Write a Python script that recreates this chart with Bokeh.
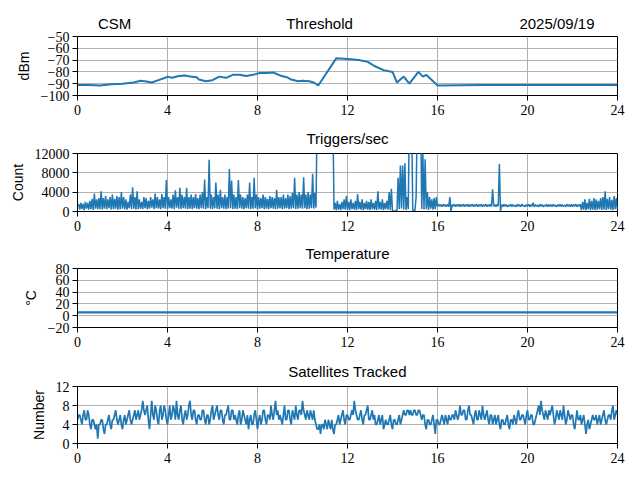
import numpy as np
from bokeh.plotting import figure
from bokeh.layouts import column
from bokeh.models import Range1d, FixedTicker
from bokeh.core.properties import value
from bokeh.embed import file_html
from bokeh.resources import INLINE

# ---------------- data ----------------
thr_hours = [0, 0.5, 1, 1.5, 2, 2.5, 2.8, 3.0, 3.3, 3.6, 3.9, 4.0, 4.2, 4.5, 4.8,
             5.0, 5.3, 5.4, 5.7, 6.0, 6.3, 6.6, 6.9, 7.2, 7.5, 7.8, 8.1, 8.4, 8.7,
             9.0, 9.3, 9.5, 9.8, 10.0, 10.3, 10.5, 10.7, 11.5, 12.0, 12.5, 12.9,
             13.2, 13.6, 14.0, 14.2, 14.5, 14.75, 15.15, 15.35, 15.5, 16.0,
             18.0, 20.0, 22.0, 24.0]
thr_dbm = [-91, -91, -91.5, -90.5, -90, -89, -87.5, -88, -89, -87, -85, -84, -85, -83.5, -83,
           -84, -84.5, -86.5, -88, -87, -84, -85, -82.5, -82.5, -83.5, -82.5, -81, -81, -80.5,
           -83, -84.5, -86.5, -88, -87.5, -88, -89, -91.5, -68.5, -69, -70, -71.5,
           -75, -78.5, -80, -89, -84, -90, -80, -84, -82.5, -91.5,
           -91, -91, -91, -91]

# triggers: readings at every 0.1 h (low) and half-way between them (high)
trig_low = [
    1200, 400, 500, 300, 600, 400, 500, 300, 600, 500,
    500, 400, 600, 500, 700, 400, 500, 600, 400, 500,
    600, 500, 400, 700, 500, 600, 400, 500, 600, 500,
    700, 500, 600, 800, 500, 700, 600, 500, 700, 600,
    500, 700, 600, 500, 800, 600, 500, 700, 600, 500,
    600, 500, 700, 600, 500, 700, 600, 500, 700, 600,
    500, 700, 600, 500, 700, 600, 500, 600, 700, 500,
    600, 500, 700, 600, 500, 700, 600, 500, 600, 700,
    500, 600, 700, 500, 600, 500, 700, 600, 500, 600,
    700, 500, 600, 700, 500, 600, 700, 500, 600, 700,
    600, 700, 500, 600, 700, 600, 800, 20000, 20000, 20000,
    20000, 20000, 20000, 20000, 400, 300, 400, 300, 500, 400,
    400, 300, 500, 400, 300, 500, 400, 300, 500, 400,
    300, 500, 400, 300, 500, 400, 300, 500, 400, 300,
    0, 0, 300, 500, 600, 400, 300, 500, 20000, 300,
    300, 20000, 20000, 500, 400, 500, 300, 600, 400, 500,
    1000, 1100, 1000, 1100, 1000, 1000, 0, 1100, 1000, 1100,
    1000, 1100, 1000, 1100, 1000, 1100, 1000, 1100, 1000, 1100,
    1000, 1100, 1000, 1100, 1000, 1100, 1000, 1100, 0, 1000,
    1100, 1000, 1100, 1000, 1100, 1000, 1100, 1000, 1100, 1000,
    1100, 1000, 1100, 1000, 1100, 1000, 1100, 1000, 1100, 1000,
    1100, 1000, 1100, 1000, 1100, 1000, 1100, 1000, 1100, 1000,
    1000, 1100, 1000, 1100, 300, 400, 300, 500, 300, 400,
    300, 400, 500, 300, 400, 300, 500, 400, 300, 500,
    400]
trig_high = [
    1500, 1800, 1600, 2000, 1800, 2200, 2600, 3700, 2500, 2800,
    4200, 2800, 3200, 2500, 3000, 3500, 2600, 3200, 3000, 4000,
    3000, 2500, 2000, 3500, 5000, 3000, 4200, 2500, 2000, 3000,
    2800, 2200, 3000, 2500, 3700, 3000, 2500, 3600, 3000, 6500,
    3000, 2500, 3500, 4400, 3000, 4900, 3500, 3000, 4900, 3000,
    3500, 3000, 3600, 2800, 3500, 4000, 6600, 3000, 10700, 3500,
    3000, 6000, 3500, 4500, 3000, 3500, 3000, 8800, 6400, 3500,
    3000, 6500, 3500, 3000, 2800, 3500, 6000, 3000, 7000, 3500,
    3000, 2800, 3500, 3000, 2600, 3200, 3000, 2800, 4500, 3000,
    3000, 3500, 2800, 3500, 3200, 3800, 7000, 3500, 4000, 3500,
    7100, 3500, 4000, 3500, 7800, 3800, 20000, 20000, 20000, 20000,
    20000, 20000, 20000, 20000, 1800, 2200, 1500, 2000, 2500, 3200,
    2000, 2500, 1800, 2200, 3600, 2000, 2500, 1800, 2200, 2000,
    2500, 1800, 2200, 4200, 2000, 2500, 1800, 2200, 4000, 4700,
    100, 200, 7000, 9500, 9500, 10000, 3000, 20000, 20000, 200,
    3000, 20000, 20000, 12000, 10800, 4000, 3000, 2500, 2800, 3000,
    1500, 1400, 1500, 1400, 1500, 3000, 1400, 1500, 1400, 1500,
    1400, 1500, 1400, 1500, 1400, 1500, 1400, 1500, 1400, 1500,
    1400, 1500, 1400, 1500, 4600, 1400, 1500, 9900, 1400, 1500,
    1400, 1300, 1500, 1400, 1300, 1500, 1400, 1500, 1300, 1400,
    1500, 1400, 1800, 1400, 1300, 1500, 1400, 1300, 1500, 1400,
    1400, 1500, 1300, 1400, 1500, 1400, 1300, 1500, 1400, 1500,
    1400, 1500, 1400, 1500, 2000, 2500, 1800, 2600, 2200, 2800,
    2500, 2200, 2800, 3000, 4200, 2600, 3000, 2400, 3200, 2800]

temp_hours = [0, 2, 4, 6, 8, 10, 12, 14, 16, 18, 20, 22, 24]
temp_c = [5.5, 5.5, 5.5, 5.5, 5.5, 5.5, 5.5, 5.5, 5.5, 5.5, 5.5, 5.5, 5.5]

# satellites: readings at every 0.1 h and half-way between them
sat_counts = [
    5, 6, 4, 7, 5, 6, 3, 5, 3, 1,
    4, 5, 2, 4, 6, 3, 5, 7, 4, 6,
    3, 6, 5, 7, 4, 6, 5, 7, 6, 9,
    6, 8, 3, 9, 5, 7, 4, 8, 6, 7,
    4, 8, 6, 7, 9, 5, 8, 4, 7, 6,
    9, 5, 7, 4, 6, 5, 7, 4, 6, 5,
    8, 6, 8, 5, 7, 4, 6, 8, 5, 7,
    6, 4, 7, 5, 6, 4, 3, 6, 4, 7,
    3, 6, 5, 7, 4, 6, 8, 5, 9, 7,
    6, 4, 8, 5, 7, 4, 6, 8, 5, 7,
    9, 6, 7, 5, 6, 7, 4, 3, 2, 4,
    5, 3, 4, 5, 2, 4, 6, 5, 7, 4,
    6, 5, 7, 9, 6, 5, 7, 4, 6, 8,
    5, 7, 6, 4, 6, 5, 3, 5, 4, 6,
    3, 5, 4, 6, 5, 7, 6, 7, 7, 6,
    7, 6, 7, 5, 6, 3, 5, 4, 6, 2,
    5, 4, 6, 4, 5, 6, 5, 6, 7, 5,
    8, 6, 7, 5, 8, 6, 4, 7, 5, 6,
    8, 5, 7, 4, 6, 5, 4, 6, 3, 5,
    4, 6, 3, 5, 6, 4, 7, 5, 6, 4,
    7, 5, 6, 4, 6, 8, 9, 6, 7, 5,
    6, 8, 4, 7, 5, 6, 8, 4, 7, 5,
    6, 3, 7, 5, 4, 6, 2, 5, 4, 6,
    5, 4, 6, 5, 7, 4, 6, 5, 8, 6,
    6]
sat_half = [
    6, 5, 6, 5, 7, 4, 5, 4, 4, 4,
    5, 3, 4, 5, 4, 5, 6, 5, 5, 4,
    5, 4, 6, 5, 5, 7, 6, 5, 7, 7,
    7, 5, 6, 6, 8, 5, 7, 5, 8, 5,
    6, 5, 8, 5, 6, 7, 5, 6, 5, 8,
    6, 7, 5, 6, 5, 7, 5, 6, 4, 7,
    5, 7, 6, 7, 5, 6, 7, 5, 7, 5,
    5, 6, 4, 7, 5, 6, 5, 4, 6, 5,
    5, 4, 7, 5, 6, 5, 6, 7, 6, 5,
    5, 6, 5, 7, 5, 7, 5, 6, 7, 6,
    7, 5, 6, 7, 5, 5, 3, 4, 4, 3,
    4, 5, 3, 3, 4, 5, 4, 6, 5, 6,
    5, 6, 6, 7, 5, 6, 5, 6, 7, 5,
    6, 5, 4, 5, 4, 6, 4, 4, 5, 4,
    5, 4, 5, 4, 6, 6, 7, 6, 6, 7,
    6, 7, 6, 6, 4, 5, 4, 5, 4, 5,
    4, 5, 5, 6, 4, 5, 6, 5, 6, 6,
    6, 7, 5, 7, 6, 5, 6, 5, 7, 5,
    6, 6, 5, 6, 4, 6, 5, 4, 5, 4,
    5, 4, 5, 4, 5, 6, 5, 6, 5, 6,
    5, 6, 4, 5, 7, 6, 7, 5, 6, 7,
    7, 6, 5, 6, 7, 5, 6, 5, 6, 6,
    4, 5, 5, 6, 5, 4, 4, 3, 5, 5,
    6, 5, 4, 6, 5, 5, 6, 7, 5, 7]

x_ticks = [0, 4, 8, 12, 16, 20, 24]
thr_ticks = [-100, -90, -80, -70, -60, -50]
trig_ticks = [0, 4000, 8000, 12000]
temp_ticks = [-20, 0, 20, 40, 60, 80]
sat_ticks = [0, 4, 8, 12]

header_texts = ["CSM", "Threshold", "2025/09/19"]
panel_titles = ["Triggers/sec", "Temperature", "Satellites Tracked"]

# sample times (0.1 h grid, plus the half-way readings)
sample_hours = np.round(np.arange(len(sat_counts)) * 0.1, 2)
dense_hours = np.empty(2 * len(sample_hours) - 1)
dense_hours[0::2] = sample_hours
dense_hours[1::2] = sample_hours[:-1] + 0.05

trig_values = np.empty(len(dense_hours))
trig_values[0::2] = trig_low
trig_values[1::2] = trig_high
sat_values = np.empty(len(dense_hours))
sat_values[0::2] = sat_counts
sat_values[1::2] = sat_half

# ---------------- style ----------------
BLUE = "#1f77b4"
SERIF = "Liberation Serif"
SANS = "Liberation Sans"
TITLE_STYLE = dict(text_baseline="middle", text_font=value(SANS),
                   text_font_size="15px", text_color="black",
                   text_line_height=1.0)


def fmt(v):
    return str(int(v)).replace("-", "\u2212")


def make_fig(ymin, ymax, yticks, fh, top, bottom, ylabel):
    p = figure(frame_width=540, frame_height=fh,
               x_range=Range1d(0, 24), y_range=Range1d(ymin, ymax),
               output_backend="svg", toolbar_location=None,
               min_border_left=77, min_border_right=23,
               min_border_top=top, min_border_bottom=bottom,
               background_fill_color="white", border_fill_color="white")
    p.outline_line_color = "black"
    p.outline_line_width = 1
    p.outline_line_alpha = 1
    p.xaxis.ticker = FixedTicker(ticks=x_ticks)
    p.yaxis.ticker = FixedTicker(ticks=yticks)
    p.xaxis.major_label_overrides = {t: fmt(t) for t in x_ticks}
    p.yaxis.major_label_overrides = {t: fmt(t) for t in yticks}
    for ax in (p.xaxis, p.yaxis):
        ax.axis_line_color = "black"
        ax.major_tick_line_color = "black"
        ax.major_tick_out = 5
        ax.major_tick_in = 0
        ax.minor_tick_out = 0
        ax.minor_tick_in = 0
        ax.major_label_text_font = SERIF
        ax.major_label_text_font_size = "14px"
        ax.major_label_text_color = "black"
    p.xaxis.major_label_standoff = 4
    p.yaxis.major_label_standoff = 3
    p.yaxis.axis_label = ylabel
    p.yaxis.axis_label_text_font = SANS
    p.yaxis.axis_label_text_font_size = "14px"
    p.yaxis.axis_label_text_font_style = "normal"
    p.yaxis.axis_label_text_color = "black"
    p.yaxis.axis_label_standoff = 6
    p.xgrid.ticker = FixedTicker(ticks=x_ticks)
    p.ygrid.ticker = FixedTicker(ticks=yticks)
    for g in (p.xgrid, p.ygrid):
        g.grid_line_color = "#b0b0b0"
        g.grid_line_width = 1
    return p


def make_header(h):
    hdr = figure(frame_width=540, frame_height=h, x_range=Range1d(0, 540),
                 y_range=Range1d(0, h), x_axis_location=None, y_axis_location=None,
                 output_backend="svg", toolbar_location=None,
                 min_border_left=77, min_border_right=23,
                 min_border_top=0, min_border_bottom=0,
                 background_fill_color="white", border_fill_color="white")
    hdr.outline_line_color = None
    hdr.grid.visible = False
    return hdr


# header row above the first panel (pixel coordinates inside its frame)
h0 = make_header(31)
h0.text(x=[20.5], y=[8], text=[header_texts[0]], text_align="left", **TITLE_STYLE)
h0.text(x=[242], y=[8], text=[header_texts[1]], text_align="center", **TITLE_STYLE)
h0.text(x=[517], y=[8], text=[header_texts[2]], text_align="right", **TITLE_STYLE)

# Threshold  (frame 36-95)
p1 = make_fig(-100, -50, thr_ticks, 59, 5, 34, "dBm")
p1.line(thr_hours, thr_dbm, line_color=BLUE, line_width=2)

# Triggers  (header 129-147, frame 153-211)
h1 = make_header(18)
h1.text(x=[270], y=[9], text=[panel_titles[0]], text_align="center", **TITLE_STYLE)
p2 = make_fig(0, 12000, trig_ticks, 58, 6, 33, "Count")
p2.line(dense_hours, trig_values, line_color=BLUE, line_width=1.5)

# Temperature  (header 244-262, frame 268-327)
h2 = make_header(18)
h2.text(x=[270], y=[9], text=[panel_titles[1]], text_align="center", **TITLE_STYLE)
p3 = make_fig(-20, 80, temp_ticks, 59, 6, 35, "\u00b0C")
p3.line(temp_hours, temp_c, line_color=BLUE, line_width=2.2)

# Satellites  (header 362-380, frame 386-443)
h3 = make_header(18)
h3.text(x=[270], y=[9], text=[panel_titles[2]], text_align="center", **TITLE_STYLE)
p4 = make_fig(0, 12, sat_ticks, 57, 6, 37, "Number")
p4.line(dense_hours, sat_values, line_color=BLUE, line_width=1.7)

layout = column(h0, p1, h1, p2, h2, p3, h3, p4, spacing=0)
open("out.html", "w").write(file_html(layout, INLINE))
